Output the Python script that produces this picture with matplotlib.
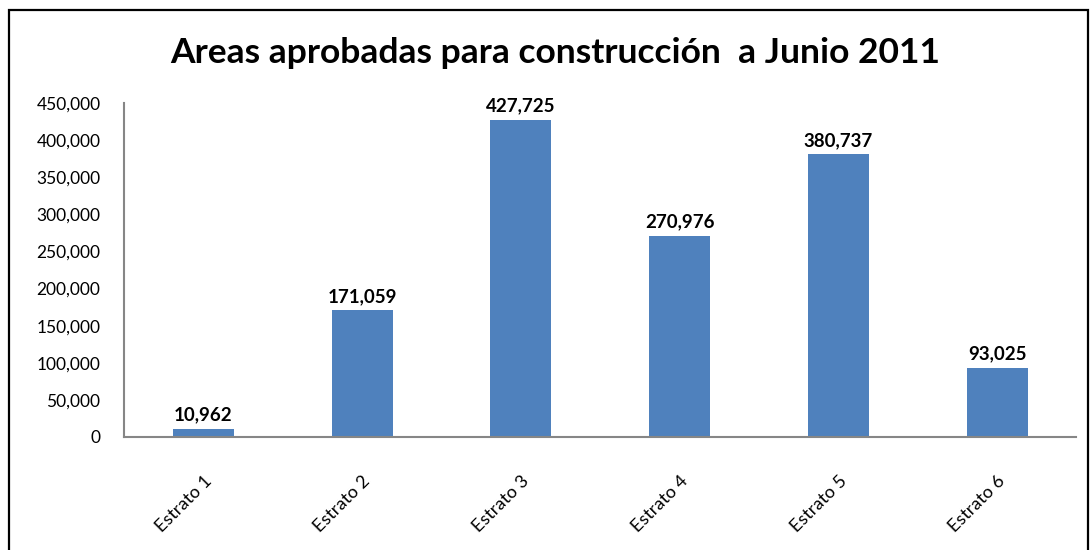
import matplotlib.pyplot as plt
from matplotlib.patches import Rectangle
from matplotlib.ticker import FuncFormatter

# data
categories = ['Estrato 1', 'Estrato 2', 'Estrato 3', 'Estrato 4', 'Estrato 5', 'Estrato 6']
areas = [10962, 171059, 427725, 270976, 380737, 93025]

plt.rcParams['font.family'] = ['Lato', 'DejaVu Sans']

fig = plt.figure(figsize=(10.91, 5.5), dpi=100)
ax = fig.add_axes([0.1137, 0.2055, 0.873, 0.6072])

#bars
x = list(range(len(categories)))
ax.bar(x, areas, width=0.385, color='#4F81BD')
for xi, v in zip(x, areas):
    ax.text(xi, v + 7000, f'{v:,}', ha='center', va='bottom', fontsize=13.5, fontweight='bold')

ax.set_xlim(-0.5, len(categories) - 0.5)
ax.set_ylim(0, 450000)
ax.set_yticks(range(0, 450001, 50000))
ax.yaxis.set_major_formatter(FuncFormatter(lambda v, p: f'{int(v):,}'))
ax.set_xticks(x)
ax.set_xticklabels(categories, rotation=45, ha='right', rotation_mode='anchor')
ax.tick_params(axis='both', length=0)
ax.tick_params(axis='y', pad=17, labelsize=12.5)
ax.tick_params(axis='x', pad=26, labelsize=13)

for s in ['top', 'right']:
    ax.spines[s].set_visible(False)
for s in ['left', 'bottom']:
    ax.spines[s].set_color('#868686')
    ax.spines[s].set_linewidth(1.5)

fig.text(0.509, 0.903, 'Areas aprobadas para construcción  a Junio 2011',
         ha='center', va='center', fontsize=25.5, fontweight='bold')

# outer frame
W, H = 1091, 550
fig.patches.append(Rectangle((9 / W, -0.05), 1079 / W, 1.05 - 10 / H, transform=fig.transFigure,
                             fill=False, edgecolor='black', linewidth=1.6, clip_on=False))

fig.savefig('out.png', dpi=100)
